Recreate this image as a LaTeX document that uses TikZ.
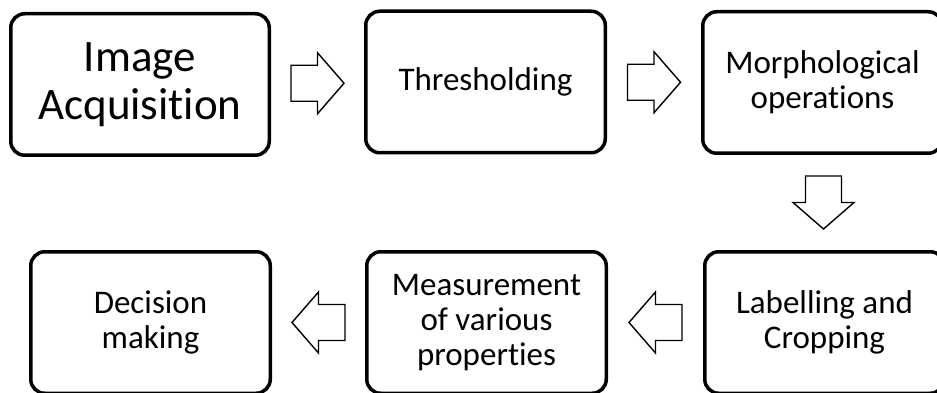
\documentclass[tikz,border=0pt]{standalone}
\usepackage{fontspec}
\setmainfont{Carlito}[Ligatures={NoCommon,NoContextual}]
\usetikzlibrary{calc}
\begin{document}
\begin{tikzpicture}[x=1pt,y=1pt,
  box/.style={draw=black, line width=3.5pt, rounded corners=14pt,
    minimum width=239.5pt, minimum height=141.5pt, align=center,
    inner sep=0pt, font=\fontsize{33}{35}\selectfont},
  barrow/.pic={\draw[line width=1.4pt, line join=miter]
    (-26.5,-18) -- (0,-18) -- (0,-30.5) -- (26.5,0) -- (0,30.5) -- (0,18) -- (-26.5,18) -- cycle;}
]
\useasboundingbox (0,0) rectangle (937,-393);
\clip (0,0) rectangle (937,-393);
\node[box, minimum width=258.5pt, font=\fontsize{45}{48}\selectfont] (b1) at (140,-84.5) {Image\\Acquisition};
\node[box] (b2) at (485.5,-82) {Thresholding};
\node[box] (b3) at (822.5,-82.5) {Morphological\\operations};
\node[box] (b4) at (150.5,-322.5) {Decision\\making};
\node[box] (b5) at (486.5,-322.5) {Measurement\\of various\\properties};
\node[box] (b6) at (824.5,-322.5) {Labelling and\\Cropping};
\pic at ($(b1.east)!0.5!(b2.west)$) {barrow};
\pic at ($(b2.east)!0.5!(b3.west)$) {barrow};
\pic[rotate=-90] at ($(b3.south)!0.5!(b6.north)$) {barrow};
\pic[rotate=180] at ($(b6.west)!0.5!(b5.east)$) {barrow};
\pic[rotate=180] at ($(b5.west)!0.5!(b4.east)$) {barrow};
\end{tikzpicture}
\end{document}
